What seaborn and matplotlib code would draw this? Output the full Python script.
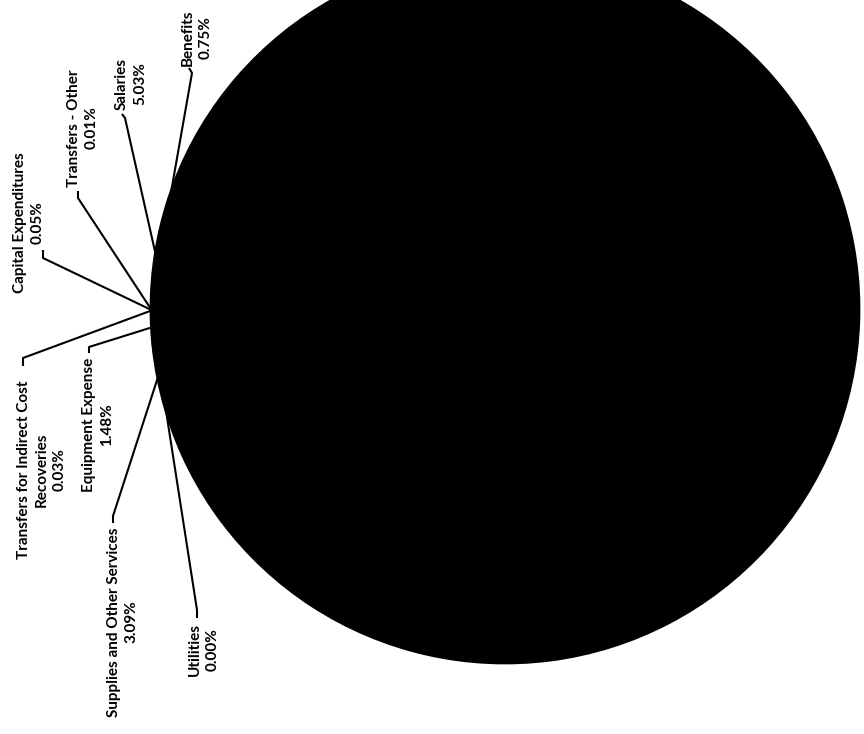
import matplotlib
matplotlib.use("Agg")
import numpy as np
import matplotlib.pyplot as plt
import seaborn as sns

# ---- data ----
categories = ["Salaries", "Benefits", "", "Utilities", "Supplies and Other Services",
              "Equipment Expense", "Transfers for Indirect Cost\nRecoveries",
              "Capital Expenditures", "Transfers - Other"]
shares = [5.03, 0.75, 89.56, 0.00, 3.09, 1.48, 0.03, 0.05, 0.01]

# ---- layout (pixel positions of the labels in the image, y downward) ----
label_pos = {
    "Benefits": (197, 38),
    "Salaries": (131, 84),
    "Transfers - Other": (83, 128),
    "Capital Expenditures": (29, 223),
    "Transfers for Indirect Cost\nRecoveries": (42, 470),
    "Equipment Expense": (98, 425),
    "Supplies and Other Services": (123, 622),
    "Utilities": (204, 650),
}
leader_start = {
    "Benefits": [(189, 68), (192, 73)],
    "Salaries": [(122, 114), (125, 118)],
    "Transfers - Other": [(78, 191), (78, 198)],
    "Capital Expenditures": [(43, 250), (43, 258)],
    "Transfers for Indirect Cost\nRecoveries": [(23, 366), (23, 358)],
    "Equipment Expense": [(89, 353), (89, 347)],
    "Supplies and Other Services": [(113, 523), (113, 516)],
    "Utilities": [(197, 618), (197, 610)],
}

sns.set_theme(style="white")
plt.rcParams['font.family'] = ['Lato', 'DejaVu Sans']

W, H = 864, 734
fig = plt.figure(figsize=(8.64, 7.34), dpi=100)
ax = fig.add_axes([0, 0, 1, 1])


def Y(y):
    return H - y


cx, cy, R = 505, Y(309), 354
wedges, _ = ax.pie(shares, startangle=180, counterclock=False, center=(cx, cy),
                   radius=R, colors=["black"] * len(shares),
                   wedgeprops=dict(edgecolor="black", linewidth=2.0,
                                   joinstyle="round"), frame=True)
ax.set_xlim(0, W)
ax.set_ylim(0, H)
ax.set_aspect("equal")
ax.axis("off")

for w, name, val in zip(wedges, categories, shares):
    if name not in label_pos:
        continue
    mid = np.deg2rad((w.theta1 + w.theta2) / 2)
    px, py = cx + R * np.cos(mid), cy + R * np.sin(mid)
    pts = [(x, Y(y)) for x, y in leader_start[name]] + [(px, py)]
    ax.plot([p[0] for p in pts], [p[1] for p in pts], color="black", lw=1.5,
            solid_capstyle="butt", zorder=5)
    lx, ly = label_pos[name]
    ax.text(lx, Y(ly), f"{name}\n{val:.2f}%", rotation=90, ha="center", va="center",
            multialignment="center", fontsize=11, fontweight="bold", color="black",
            linespacing=1.35, zorder=6)

fig.savefig("out.png", dpi=100, facecolor="white")
